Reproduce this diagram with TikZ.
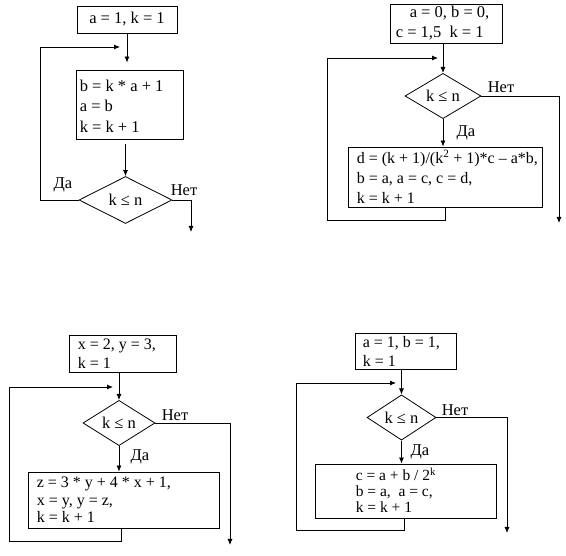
\documentclass[tikz,border=0pt]{standalone}
\usepackage{fontspec}
\setmainfont{Liberation Serif}
\usetikzlibrary{arrows.meta,shapes.geometric}

\begin{document}
\begin{tikzpicture}[x=1pt,y=-1pt,>={Latex[length=6pt,width=5pt]},line join=miter]
\useasboundingbox[fill=white] (0,0) rectangle (566,556);
\tikzset{flow/.style={draw=black,line width=0.8pt},blk/.style={draw=black,line width=0.8pt,rectangle,inner sep=0pt,font=\fontsize{16.5}{20}\selectfont},txt/.style={anchor=west,align=left,inner sep=0pt,font=\fontsize{16.5}{20}\selectfont},cond/.style={draw=black,line width=0.8pt,diamond,inner sep=0pt,font=\fontsize{16.5}{20}\selectfont},lbl/.style={inner sep=0pt,font=\fontsize{16.5}{20}\selectfont}}
% first scheme
\node[blk,minimum width=100pt,minimum height=27pt] (initA) at (127,19.5) {a = 1, k = 1};
\node[blk,minimum width=107pt,minimum height=69pt] (bodyA) at (129.5,104.5) {};
\node[txt,font=\fontsize{16.5}{20.5}\selectfont] (bodyAtext) at ([xshift=4pt,yshift=-1.5pt]bodyA.west) {b = k * a + 1\\a = b\\k = k + 1};
\node[cond,minimum width=93pt,minimum height=47pt] (condA) at (125.5,200) {k ≤ n};
\coordinate (loopA) at (40,200); \coordinate (joinA) at (120,47); \coordinate (outA) at (191,232);
\draw[flow,->,shorten >=7pt] (initA.south) -- (initA.south |- bodyA.north);
\draw[flow,->,shorten <=5pt] (condA.north |- bodyA.south) -- (condA.north);
\draw[flow,->] (condA.west) -- (loopA) |- (joinA);
\draw[flow,->] (condA.east) -| (outA);
\node[lbl] (yesA) at (63,185) {Да};
\node[lbl] (noA) at (184,190) {Нет};
% second scheme
\node[blk,minimum width=112pt,minimum height=39pt] (initB) at (446,23.5) {};
\node[txt] (initBtext) at ([xshift=6pt]initB.west) {\hspace{14pt}a = 0, b = 0,\\c = 1,5\enspace k = 1};
\node[cond,minimum width=76pt,minimum height=34pt] (condB) at (443,96) {k ≤ n};
\node[blk,minimum width=194pt,minimum height=60pt] (bodyB) at (445,177) {};
\node[txt,font=\fontsize{16}{20}\selectfont] (bodyBtext) at ([xshift=9pt]bodyB.west) {d = (k + 1)/(k\textsuperscript{2} + 1)*c – a*b,\\b = a, a = c, c = d,\\k = k + 1};
\coordinate (loopB) at (327,220); \coordinate (joinB) at (438,58); \coordinate (outB) at (559,223);
\draw[flow,->] (condB.north |- initB.south) -- (condB.north);
\draw[flow,->] (condB.south) -- (bodyB.north -| condB.south);
\draw[flow,->] (bodyB.south) |- (loopB) |- (joinB);
\draw[flow,->] (condB.east) -| (outB);
\node[lbl] (yesB) at (466,133) {Да};
\node[lbl] (noB) at (501,87) {Нет};
% third scheme
\node[blk,minimum width=107pt,minimum height=37pt] (initC) at (122.5,353.5) {};
\node[txt,font=\fontsize{16}{19}\selectfont] (initCtext) at ([xshift=9pt]initC.west) {x = 2, y = 3,\\k = 1};
\node[cond,minimum width=72pt,minimum height=32pt] (condC) at (119,423) {k ≤ n};
\node[blk,minimum width=191pt,minimum height=56pt] (bodyC) at (123.5,500) {};
\node[txt,font=\fontsize{16}{17.5}\selectfont] (bodyCtext) at ([xshift=9pt]bodyC.west) {z = 3 * y + 4 * x + 1,\\x = y, y = z,\\k = k + 1};
\coordinate (loopC) at (9,541); \coordinate (joinC) at (113,387); \coordinate (outC) at (230,545);
\draw[flow,->] (condC.north |- initC.south) -- (condC.north);
\draw[flow,->] (condC.south) -- (bodyC.north -| condC.south);
\draw[flow,->] (bodyC.south -| 121,0) |- (loopC) |- (joinC);
\draw[flow,->] (condC.east) -| (outC);
\node[lbl] (yesC) at (140,457) {Да};
\node[lbl] (noC) at (175,415) {Нет};
% fourth scheme
\node[blk,minimum width=101pt,minimum height=36pt] (initD) at (405.5,351) {};
\node[txt,font=\fontsize{16}{19}\selectfont] (initDtext) at ([xshift=8pt]initD.west) {a = 1, b = 1,\\k = 1};
\node[cond,minimum width=69pt,minimum height=31pt] (condD) at (401.5,417.5) {k ≤ n};
\node[blk,minimum width=181pt,minimum height=54pt] (bodyD) at (405.5,491) {};
\node[txt,font=\fontsize{15.5}{16}\selectfont] (bodyDtext) at ([xshift=41pt,yshift=1pt]bodyD.west) {c = a + b / 2\textsuperscript{k}\\b = a,\enspace a = c,\\k = k + 1};
\coordinate (loopD) at (296,530); \coordinate (joinD) at (396,383); \coordinate (outD) at (507,533);
\draw[flow,->] (condD.north |- initD.south) -- (condD.north);
\draw[flow,->] (condD.south) -- (bodyD.north -| condD.south);
\draw[flow,->] (bodyD.south -| 404,0) |- (loopD) |- (joinD);
\draw[flow,->] (condD.east) -| (outD);
\node[lbl] (yesD) at (420,452) {Да};
\node[lbl] (noD) at (455,410) {Нет};
\end{tikzpicture}
\end{document}
